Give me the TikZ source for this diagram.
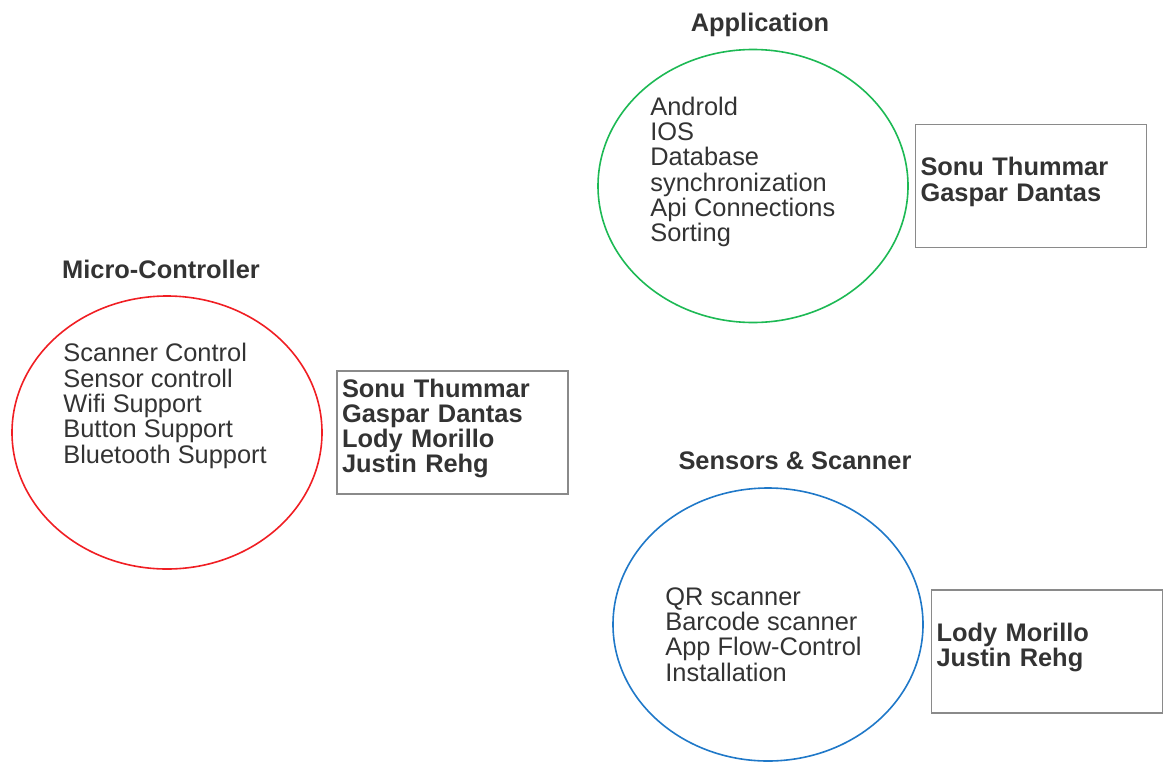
\documentclass[tikz,border=0pt]{standalone}
\usepackage{fontspec}
\setmainfont{Liberation Sans}
\usetikzlibrary{shapes.geometric}

\definecolor{mcred}{HTML}{F01E23}
\definecolor{appgreen}{HTML}{1DB954}
\definecolor{sensblue}{HTML}{1F78C8}
\definecolor{boxgray}{HTML}{8A8A8A}
\definecolor{txtgray}{HTML}{333333}

\tikzset{
    ring/.style={ellipse, minimum width=155pt, minimum height=136.5pt,
        line width=0.8pt, inner sep=0pt},
    items/.style={anchor=west, align=left, text=txtgray, inner sep=0pt,
        font=\fontsize{12.7}{12.65}\selectfont},
    heading/.style={text=txtgray, inner sep=0pt,
        font=\bfseries\fontsize{12.7}{12.65}\selectfont},
    % names sit a little above the middle of the box
    namebox/.style={draw=boxgray, line width=0.8pt, minimum width=115.5pt,
        minimum height=61.5pt, text width=110.5pt, align=left,
        inner xsep=2.5pt, text=txtgray,
        font=\bfseries\fontsize{12.7}{12.65}\selectfont,
        execute at end node={\par\vspace{4pt}}}
}

\begin{document}
\begin{tikzpicture}[x=0.5pt, y=-0.5pt]
    \useasboundingbox (0,0) rectangle (1167,761);

    % Micro-Controller group
    \node[heading] (mctitle) at (161,269) {Micro-Controller};
    \node[ring, draw=mcred] (mcring) at (167,432.5) {};
    \node[items] (mcitems) at (63,406) {Scanner Control\\Sensor controll\\Wifi Support\\Button Support\\Bluetooth Support};
    \node[namebox] (mcteam) at (452.5,432.5) {Sonu Thummar\\Gaspar Dantas\\Lody Morillo\\Justin Rehg};

    % Application group
    \node[heading] (apptitle) at (760,24.5) {Application};
    \node[ring, draw=appgreen] (appring) at (753,186) {};
    \node[items] (appitems) at (650,172) {Androld\\IOS\\Database\\synchronization\\Api Connections\\Sorting};
    \node[namebox] (appteam) at (1031,186) {Sonu Thummar\\Gaspar Dantas};

    % Sensors & Scanner group
    \node[heading] (senstitle) at (795,461) {Sensors \& Scanner};
    \node[ring, draw=sensblue] (sensring) at (768,624.5) {};
    \node[items] (sensitems) at (665,634.5) {QR scanner\\Barcode scanner\\App Flow-Control\\Installation};
    \node[namebox] (sensteam) at (1047,651.5) {Lody Morillo\\Justin Rehg};
\end{tikzpicture}
\end{document}
